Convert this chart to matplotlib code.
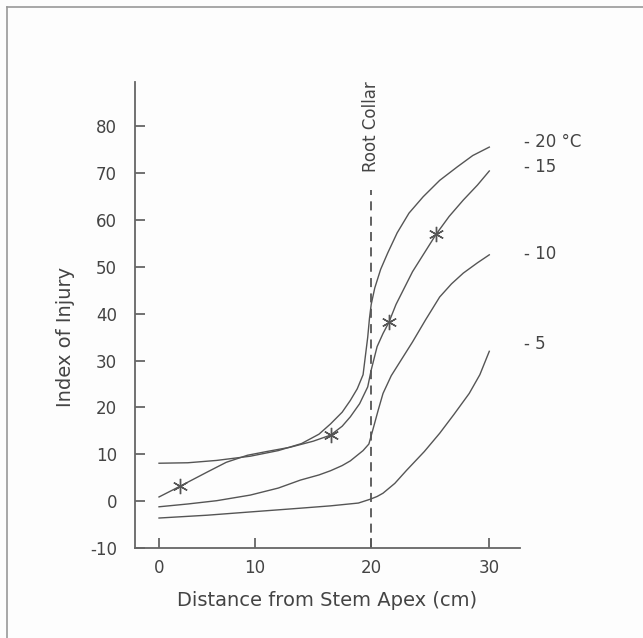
import numpy as np
import matplotlib
matplotlib.use("Agg")
import matplotlib.pyplot as plt
from matplotlib.lines import Line2D

plt.rcParams["axes.unicode_minus"] = False

# values
x_20 = [0, 3, 6, 9.5, 12, 14, 15.5, 16.5, 17.5, 18.2, 18.8, 19.3, 19.5, 19.7, 19.85, 20.0,
        20.3, 20.8, 21.4, 22.2, 23.2, 24.4, 25.8, 27.3, 28.6, 30]
y_20 = [8.1, 8.2, 8.7, 9.6, 10.8, 12.3, 14.3, 16.5, 19.0, 21.5, 24.0, 27.0, 31.0, 35.0, 39.0, 42.0,
        45.5, 49.5, 53.0, 57.3, 61.5, 65.0, 68.5, 71.4, 73.8, 75.6]

x_15 = [0, 2.2, 5, 7, 9.2, 11, 13, 15, 16.5, 17.5, 18.2, 19, 19.7, 20.0, 20.5, 21, 21.5,
        22.1, 22.7, 23.5, 24.5, 25.5, 26.6, 27.8, 29, 30]
y_15 = [0.9, 3.2, 6.2, 8.3, 9.8, 10.6, 11.5, 12.8, 14.1, 16.0, 18.0, 20.8, 24.4, 28.0, 33.0, 35.8, 38.2,
        42.0, 45.0, 49.0, 53.0, 57.0, 60.8, 64.3, 67.5, 70.5]

x_10 = [0, 3, 6, 9.5, 12, 13.9, 15.5, 16.5, 17.5, 18.2, 19.3, 19.8, 20.2, 20.6, 21, 21.7,
        22.5, 23.5, 24.6, 25.8, 26.8, 27.8, 29, 30]
y_10 = [-1.2, -0.6, 0.1, 1.3, 2.8, 4.5, 5.6, 6.5, 7.6, 8.6, 10.8, 12.2, 15.8, 19.5, 23.0, 26.8,
        30.0, 34.0, 38.7, 43.6, 46.4, 48.7, 50.9, 52.6]

x_5 = [0, 5, 9.5, 13.9, 16.5, 18.9, 19.9, 20.5, 21, 22, 23, 24.5, 25.8, 27, 28.3, 29.2, 30]
y_5 = [-3.6, -3.0, -2.3, -1.5, -1.0, -0.4, 0.4, 1.0, 1.7, 3.8, 6.6, 10.6, 14.5, 18.5, 23.0, 27.0, 32.0]

star_x = [2.2, 16.5, 21.5, 25.5]
star_y = [3.2, 14.1, 38.2, 57.0]

curve_labels = ["- 20 °C", "- 15", "- 10", "- 5"]
label_y = [76.7, 71.4, 52.8, 33.5]

x_ticks = [0, 10, 20, 30]
y_ticks = [-10, 0, 10, 20, 30, 40, 50, 60, 70, 80]

# the hand-drawn x axis is not evenly spaced, so map it piecewise
_xk = [-100, 0, 10, 20, 30, 100]
_uk = [-960, 0, 96, 212, 330, 330 + 70 * 11.8]

def fwd(x):
    return np.interp(x, _xk, _uk)

def inv(u):
    return np.interp(u, _uk, _xk)

ink = "#555555"
txt = "#444444"

fig = plt.figure(figsize=(6.43, 6.38), dpi=100)
fig.patch.set_facecolor("#fdfdfd")

# scanned page frame
fig.add_artist(Line2D([7 / 643, 7 / 643], [0, 1 - 7 / 638], transform=fig.transFigure, color="#999999", lw=1.2))
fig.add_artist(Line2D([7 / 643, 1], [1 - 7 / 638, 1 - 7 / 638], transform=fig.transFigure, color="#999999", lw=1.2))

ax = fig.add_axes([135 / 643, 90 / 638, 385 / 643, 466 / 638])
ax.set_facecolor("none")
ax.set_xscale("function", functions=(fwd, inv))
ax.set_xlim(-2.5, 32.6)
ax.set_ylim(-10, 89.5)

for s in ["top", "right"]:
    ax.spines[s].set_visible(False)
for s in ["left", "bottom"]:
    ax.spines[s].set_color("#666666")
    ax.spines[s].set_linewidth(1.3)

ax.set_xticks(x_ticks)
ax.set_yticks(y_ticks)
ax.xaxis.set_minor_locator(matplotlib.ticker.NullLocator())
ax.tick_params(direction="in", length=7, width=1.3, color="#666666",
               labelcolor=txt, labelsize=12)
ax.tick_params(axis="y", pad=13)
ax.tick_params(axis="x", pad=8)

for xs, ys in [(x_20, y_20), (x_15, y_15), (x_10, y_10), (x_5, y_5)]:
    ax.plot(xs, ys, color=ink, lw=1.0, clip_on=False, solid_joinstyle="round")

ax.plot(star_x, star_y, linestyle="none", marker=(6, 2, 0), markersize=11,
        markeredgewidth=1.0, color=ink)

ax.axvline(20, ymin=0, ymax=(66.5 - (-10)) / 99.5, color=ink, lw=1.3,
           linestyle=(0, (5, 3.5)))
ax.text(20, 70.3, "Root Collar", rotation=90, ha="center", va="bottom",
        fontsize=12, color=txt)

for lab, yy in zip(curve_labels, label_y):
    ax.text(32.9, yy, lab, ha="left", va="center", fontsize=12, color=txt)

ax.set_xlabel("Distance from Stem Apex (cm)", fontsize=14, color=txt, labelpad=10)
ax.set_ylabel("Index of Injury", fontsize=14, color=txt)
ax.yaxis.set_label_coords(-0.155, 0.453)

fig.savefig("out.png", dpi=100, facecolor=fig.get_facecolor())
